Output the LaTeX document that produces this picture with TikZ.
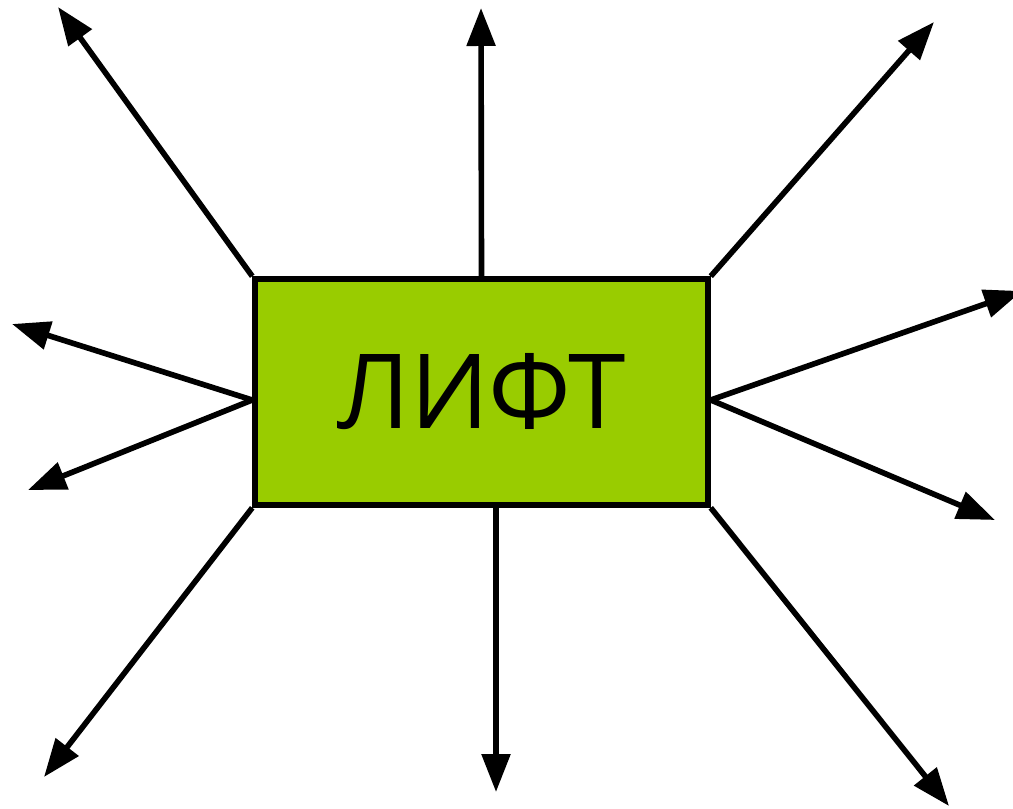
\documentclass[tikz,border=0pt]{standalone}
\usepackage{fontspec}
\setmainfont{Open Sans}
\usepackage{xcolor}
\usetikzlibrary{arrows.meta}
\definecolor{liftgreen}{HTML}{99CC00}
\tikzstyle{line} = [draw, line width=3.2pt, -{Triangle[length=0.76cm,width=0.56cm]}]
\tikzstyle{block}=[draw, rectangle, line width=3.2pt, fill=liftgreen, inner sep=0pt, minimum width=9.06cm, minimum height=4.52cm]

\begin{document}
\begin{tikzpicture}[x=0.02cm,y=-0.02cm]
		\useasboundingbox (0,0) rectangle (1013,808);
		\node[block] (lift) at (481.5,392) {\fontsize{59}{62}\selectfont ЛИФТ};
		\coordinate (nw) at (58,7);
		\coordinate (n) at (481,8);
		\coordinate (ne) at (934,22);
		\coordinate (eu) at (1022,291);
		\coordinate (ed) at (995,520);
		\coordinate (se) at (949,806);
		\coordinate (s) at (496,792);
		\coordinate (sw) at (44,777);
		\coordinate (wu) at (12,324);
		\coordinate (wd) at (28,490);
		\draw[line] (lift.north west) -- (nw);
		\draw[line] (lift.north) -- (n);
		\draw[line] (lift.north east) -- (ne);
		\draw[line] ([yshift=-0.16cm]lift.east) -- (eu);
		\draw[line] ([yshift=-0.16cm]lift.east) -- (ed);
		\draw[line] (lift.south east) -- (se);
		\draw[line] (lift.south -| s) -- (s);
		\draw[line] (lift.south west) -- (sw);
		\draw[line] ([yshift=-0.16cm]lift.west) -- (wu);
		\draw[line] ([yshift=-0.16cm]lift.west) -- (wd);
	\end{tikzpicture}
\end{document}
